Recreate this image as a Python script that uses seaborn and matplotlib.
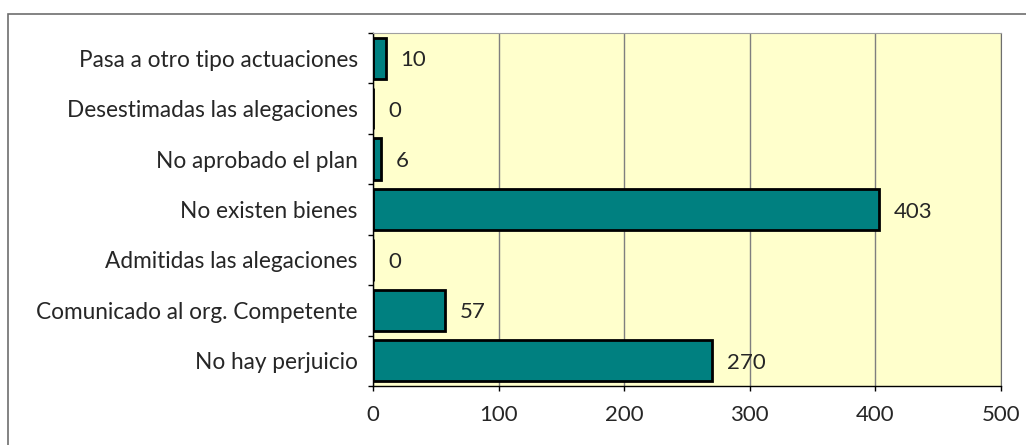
import numpy as np
import pandas as pd
import seaborn as sns
import matplotlib.pyplot as plt
from matplotlib.patches import Rectangle

categorias = ["Pasa a otro tipo actuaciones", "Desestimadas las alegaciones",
              "No aprobado el plan", "No existen bienes", "Admitidas las alegaciones",
              "Comunicado al org. Competente", "No hay perjuicio"]
valores = [10, 0, 6, 403, 0, 57, 270]
xticks = [0, 100, 200, 300, 400, 500]

df = pd.DataFrame({"cat": categorias, "val": valores})

sns.set_style("white")
plt.rcParams['font.family'] = ['Lato', 'DejaVu Sans']

fig = plt.figure(figsize=(10.26, 4.45), dpi=100)
ax = fig.add_axes([373/1026, 1 - 386/445, (1001 - 373)/1026, (386 - 33)/445])

# marco exterior
fig.patches.append(Rectangle((8/1026, -0.1), 1.1, (445 - 14)/445 + 0.1, transform=fig.transFigure,
                             fill=False, edgecolor='#6e6e6e', linewidth=1.2, zorder=0))

ax.set_facecolor('#FFFFCC')
sns.barplot(data=df, x="val", y="cat", orient="h", color="#008080", saturation=1,
            edgecolor="black", linewidth=2, width=0.82, ax=ax)

ax.set_xlim(0, 500)
ax.set_ylim(6.5, -0.5)
ax.set_xticks(xticks)
ax.set_xticklabels([str(t) for t in xticks], fontsize=16)
ax.xaxis.grid(True, color='#7f7f7f', linewidth=1)
ax.set_axisbelow(True)

# etiquetas de categorias en el centro, marcas en los limites
ax.set_yticks(np.arange(-0.5, 7, 1))
ax.set_yticklabels([])
ax.set_yticks(np.arange(7), minor=True)
ax.set_yticklabels(categorias, minor=True, fontsize=16.3)
ax.tick_params(axis='y', which='minor', length=0, pad=11)
ax.tick_params(axis='y', which='major', length=3.6, width=1, color='black', left=True)
ax.tick_params(axis='x', length=3.6, width=1, color='black', bottom=True, pad=10)
ax.set_xlabel("")
ax.set_ylabel("")

for s in ['left', 'bottom']:
    ax.spines[s].set_color('black')
    ax.spines[s].set_linewidth(1)
ax.spines['top'].set_color('#a0a0a0')
ax.spines['right'].set_color('#6e6e6e')

for i, v in enumerate(valores):
    ax.text(v + 12, i + 0.04, str(v), va='center', ha='left', fontsize=16)

fig.savefig("out.png", dpi=100)
